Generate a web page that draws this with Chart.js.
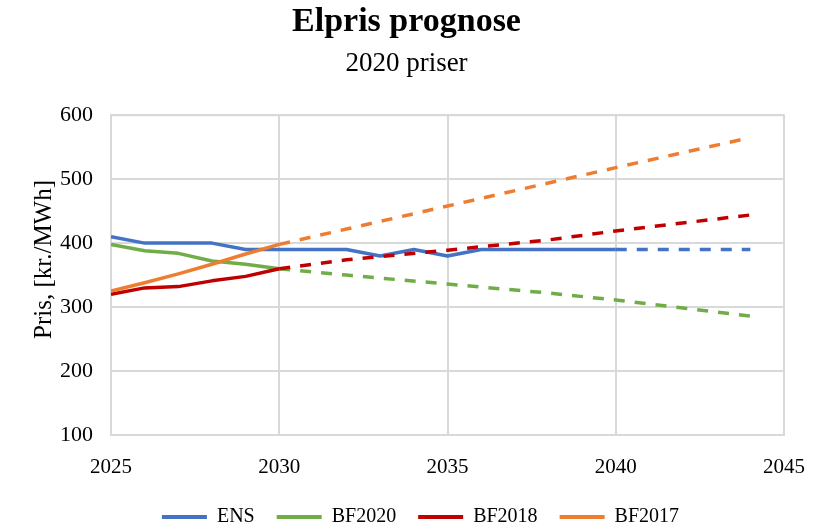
<!DOCTYPE html>
<html><head><meta charset="utf-8">
<script src="https://cdn.jsdelivr.net/npm/chart.js@4/dist/chart.umd.min.js"></script>
<style>html,body{margin:0;padding:0;background:#fff}#wrap{width:828px;height:527px}</style>
</head><body><div id="wrap"><canvas id="c" width="828" height="527"></canvas></div>
<script>
// --- data ---
const seriesNames = ["ENS", "BF2020", "BF2018", "BF2017"];
const solidYearsENS = [2025,2026,2027,2028,2029,2030,2031,2032,2033,2034,2035,2036,2037,2038,2039,2040];
const ensSolid = [410,400,400,400,390,390,390,390,380,390,380,390,390,390,390,390];
const solidYears = [2025,2026,2027,2028,2029,2030];
const bf2020Solid = [398,388,384,372,367,360];
const bf2018Solid = [320,330,332,341,348,360];
const bf2017Solid = [325,338,352,367,383,398];
const dashYearsENS = [2040,2041,2042,2043,2044];
const ensDash = [390,390,390,390,390];
const dashYears = [2030,2032,2035,2038,2040,2044];
const bf2020Dash = [360,350,336,322,311,286];
const bf2018Dash = [360,374,389,405,419,444];
const bf2017Dash = [398,422,458,494,518,565];
const yTicks = [100,200,300,400,500,600];
const xTicks = [2025,2030,2035,2040,2045];

const colors = ["#4472C4", "#70AD47", "#C00000", "#ED7D31"];
const pts = (xs, ys) => xs.map((x, i) => ({x: x, y: ys[i]}));
const FONT = "'Liberation Serif', 'Times New Roman', serif";

function ds(label, data, color, dashed, order) {
  return {
    label: label, data: data, borderColor: color, backgroundColor: color,
    borderWidth: 3.5, borderDash: dashed ? [11, 10] : [], pointRadius: 0,
    tension: 0, fill: false, order: order, borderCapStyle: 'butt', borderJoinStyle: 'round'
  };
}

const datasets = [
  ds(seriesNames[0], pts(solidYearsENS, ensSolid), colors[0], false, 4),
  ds(seriesNames[1], pts(solidYears, bf2020Solid), colors[1], false, 3),
  ds(seriesNames[2], pts(solidYears, bf2018Solid), colors[2], false, 2),
  ds(seriesNames[3], pts(solidYears, bf2017Solid), colors[3], false, 1),
  ds(seriesNames[0] + " prognose", pts(dashYearsENS, ensDash), colors[0], true, 4),
  ds(seriesNames[1] + " prognose", pts(dashYears, bf2020Dash), colors[1], true, 3),
  ds(seriesNames[2] + " prognose", pts(dashYears, bf2018Dash), colors[2], true, 2),
  ds(seriesNames[3] + " prognose", pts(dashYears, bf2017Dash), colors[3], true, 1)
];

new Chart(document.getElementById('c'), {
  type: 'line',
  data: { datasets: datasets },
  options: {
    responsive: false, animation: false,
    layout: { padding: { left: 29, right: 44, top: 0, bottom: -10 } },
    plugins: {
      tooltip: { enabled: false },
      title: { display: true, text: 'Elpris prognose', color: '#000',
        font: { family: FONT, size: 34, weight: 'bold' }, padding: { top: 2, bottom: 0 } },
      subtitle: { display: true, text: '2020 priser', color: '#000',
        font: { family: FONT, size: 27 }, padding: { top: 5, bottom: 35 } },
      legend: {
        position: 'bottom',
        labels: {
          color: '#000', font: { family: FONT, size: 20 },
          boxWidth: 45, boxHeight: 4, padding: 22,
          generateLabels: (chart) => Chart.defaults.plugins.legend.labels.generateLabels(chart)
            .filter(l => l.datasetIndex < 4)
            .sort((a, b) => a.datasetIndex - b.datasetIndex)
            .map(l => Object.assign(l, { lineWidth: 0, fillStyle: colors[l.datasetIndex], lineDash: [] }))
        }
      }
    },
    scales: {
      x: {
        type: 'linear', min: 2025, max: 2045,
        afterBuildTicks: (s) => { s.ticks = xTicks.map(v => ({ value: v })); },
        afterFit: (s) => { s.height = 50; },
        grid: { color: '#d9d9d9', lineWidth: 2, drawTicks: false },
        border: { color: '#d9d9d9', width: 2 },
        ticks: { color: '#000', font: { family: FONT, size: 21 }, padding: 20,
          maxRotation: 0, callback: (v) => String(v) }
      },
      y: {
        min: 100, max: 600,
        afterBuildTicks: (s) => { s.ticks = yTicks.map(v => ({ value: v })); },
        afterFit: (s) => { s.width = 82; },
        grid: { color: '#d9d9d9', lineWidth: 2, drawTicks: false },
        border: { color: '#d9d9d9', width: 2 },
        title: { display: true, text: '     Pris, [kr./MWh]', color: '#000',
          font: { family: FONT, size: 25 }, padding: { top: 0, bottom: 6 } },
        ticks: { color: '#000', font: { family: FONT, size: 22 }, padding: 18 }
      }
    }
  },
  plugins: [{
    id: 'shiftLegend',
    afterLayout(chart) {
      if (chart.legend) { chart.legend.left += 14; chart.legend.right += 14; }
    }
  }, {
    id: 'rightTopBorder',
    afterDraw(chart) {
      const a = chart.chartArea, c = chart.ctx;
      c.save(); c.strokeStyle = '#d9d9d9'; c.lineWidth = 2;
      c.beginPath(); c.moveTo(a.left, a.top); c.lineTo(a.right, a.top); c.lineTo(a.right, a.bottom); c.stroke();
      c.restore();
    }
  }]
});
</script></body></html>
